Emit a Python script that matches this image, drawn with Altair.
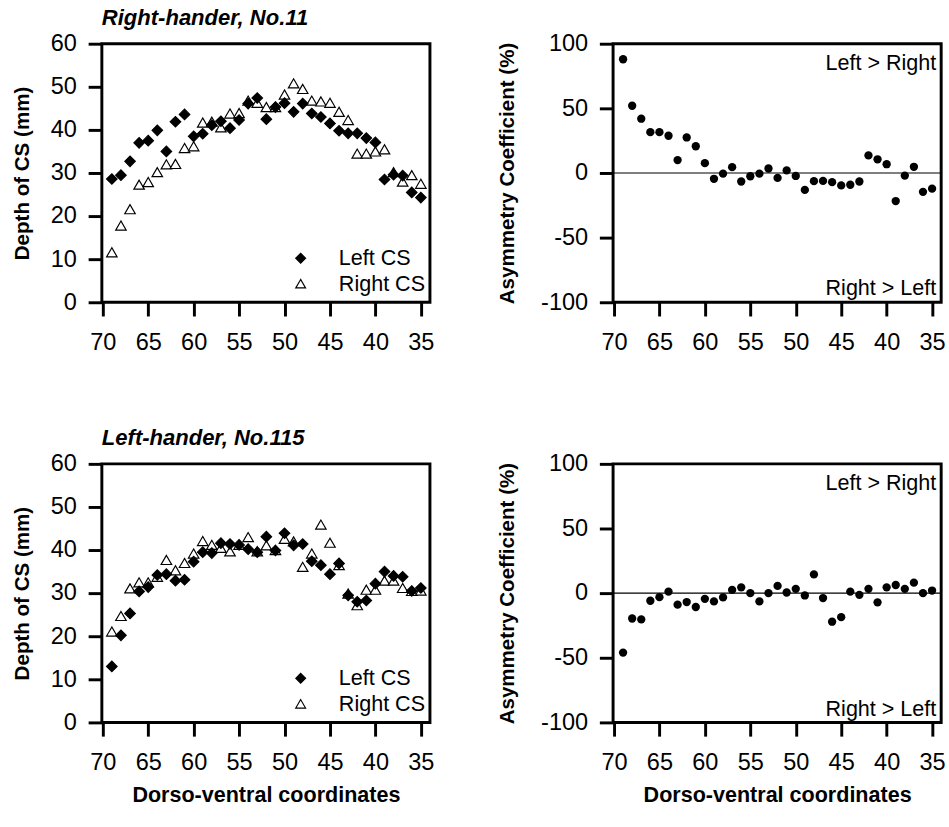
import altair as alt
import pandas as pd

FONT = "Liberation Sans"
W, H = 335, 264

# Dorso-ventral coordinates of the data points (69 down to 35)
coords = list(range(69, 34, -1))
x_ticks = [70, 65, 60, 55, 50, 45, 40, 35]
depth_ticks = [0, 10, 20, 30, 40, 50, 60]
asym_ticks = [-100, -50, 0, 50, 100]

panel_titles = ["Right-hander, No.11", "Left-hander, No.115"]
series_names = ["Left CS", "Right CS"]
annotations = ["Left > Right", "Right > Left"]

# Right-hander No.11
r11_left = [28.6, 29.5, 32.7, 37.0, 37.5, 39.9, 35.0, 41.9, 43.6, 38.5,
            39.1, 41.1, 42.0, 40.4, 42.3, 46.1, 47.4, 42.5, 45.3, 46.2,
            44.2, 46.1, 43.8, 43.0, 41.5, 39.8, 39.2, 39.2, 38.1, 37.1,
            28.5, 29.6, 29.4, 25.5, 24.3]
r11_right = [11.6, 17.8, 21.6, 27.3, 27.9, 30.2, 32.0, 32.1, 35.8, 36.2,
             41.7, 41.9, 40.6, 43.8, 43.9, 46.8, 46.3, 45.3, 45.3, 48.2,
             50.8, 49.5, 46.8, 46.6, 46.3, 44.2, 42.3, 34.5, 34.5, 35.0,
             35.5, 30.2, 28.0, 29.5, 27.5]
r11_asym = [88, 52, 42, 31.6, 31.6, 28.8, 10, 27.5, 20.7, 7.6,
            -4.5, -0.5, 4.5, -6.6, -2.5, -0.5, 3.5, -3.8, 2, -2.3,
            -13.1, -6.3, -6.1, -7.1, -9.6, -9.1, -6.6, 13.6, 10.6, 6.8,
            -21.7, -2, 4.8, -14.6, -12.1]

# Left-hander No.115
l115_left = [13.0, 20.2, 25.3, 30.4, 31.4, 34.2, 34.4, 32.9, 33.1, 37.3,
             39.5, 39.3, 41.6, 41.4, 41.2, 40.2, 39.5, 43.1, 39.9, 43.9,
             41.1, 41.4, 37.4, 36.5, 34.4, 36.9, 29.5, 28.0, 28.3, 32.2,
             35.0, 34.0, 33.8, 30.5, 31.2]
l115_right = [21.1, 24.7, 31.1, 32.5, 32.5, 33.8, 37.7, 35.3, 37.0, 39.2,
              42.1, 41.2, 40.5, 39.7, 41.2, 43.0, 39.7, 41.1, 40.0, 42.6,
              42.0, 36.1, 39.2, 45.9, 41.7, 36.5, 29.9, 27.2, 30.8, 30.8,
              32.9, 32.9, 31.2, 30.5, 30.6]
l115_asym = [-46, -19.6, -20.3, -5.9, -3.1, 1.2, -8.9, -6.9, -10.7, -4.4,
             -6.4, -3.3, 2.5, 4.5, 0, -6.4, 0, 5.6, 0.5, 3.3,
             -1.8, 14.5, -3.8, -22.1, -18.6, 1.2, -1.3, 3.3, -7.1, 4.5,
             6.3, 3.3, 8.1, 0, 2.0]


def x_enc(show_title):
    return alt.X(
        "coord:Q",
        scale=alt.Scale(domain=[70.1, 34.0], nice=False, zero=False),
        axis=alt.Axis(values=x_ticks, format="d",
                      title="Dorso-ventral coordinates" if show_title else None),
    )


def title_mark(text):
    return alt.Chart(pd.DataFrame({"t": [text]})).mark_text(
        align="left", baseline="alphabetic", fontSize=22.5, fontStyle="italic",
        fontWeight="bold", font=FONT, color="black"
    ).encode(x=alt.value(0), y=alt.value(-19), text="t:N")


def depth_panel(left, right, title, show_x_title):
    df = pd.DataFrame({
        "coord": coords + coords,
        "depth": right + left,
        "side": [series_names[1]] * len(coords) + [series_names[0]] * len(coords),
    })
    leg = alt.Legend(orient="none", legendX=192, legendY=208, title=None,
                     labelFontSize=22, labelFont=FONT, labelColor="black",
                     symbolSize=100, symbolStrokeWidth=1.2, labelOffset=28,
                     rowPadding=4, padding=0)
    pts = alt.Chart(df).mark_point(filled=True, size=115,
                                   strokeWidth=1.2, opacity=1).encode(
        x=x_enc(show_x_title),
        y=alt.Y("depth:Q", scale=alt.Scale(domain=[0, 60], nice=False),
                axis=alt.Axis(values=depth_ticks, title="Depth of CS (mm)",
                              titlePadding=18)),
        shape=alt.Shape("side:N", scale=alt.Scale(domain=series_names,
                                                  range=["diamond", "triangle-up"]),
                        legend=leg),
        fill=alt.Fill("side:N", scale=alt.Scale(domain=series_names,
                                                range=["black", "white"]),
                      legend=leg),
        stroke=alt.Stroke("side:N", scale=alt.Scale(domain=series_names,
                                                    range=["black", "black"]),
                          legend=leg),
    )
    return alt.layer(pts, title_mark(title)).properties(width=W, height=H)


def asym_panel(values, show_x_title):
    df = pd.DataFrame({"coord": coords, "asym": values})
    y = alt.Y("asym:Q", scale=alt.Scale(domain=[-100, 100], nice=False),
              axis=alt.Axis(values=asym_ticks, labelExpr="'' + datum.value",
                            title="Asymmetry Coefficient (%)", titlePadding=24))
    zero = alt.Chart(pd.DataFrame({"asym": [0]})).mark_rule(
        color="black", strokeWidth=1.2).encode(y=y)
    pts = alt.Chart(df).mark_circle(size=72, color="black", opacity=1).encode(
        x=x_enc(show_x_title), y=y)
    top = alt.Chart(pd.DataFrame({"t": [annotations[0]]})).mark_text(
        align="right", baseline="middle", fontSize=22, font=FONT, color="black"
    ).encode(x=alt.value(W - 5), y=alt.value(20), text="t:N")
    bot = alt.Chart(pd.DataFrame({"t": [annotations[1]]})).mark_text(
        align="right", baseline="middle", fontSize=22, font=FONT, color="black"
    ).encode(x=alt.value(W - 5), y=alt.value(H - 14), text="t:N")
    return alt.layer(zero, pts, top, bot).properties(width=W, height=H)


res = dict(shape="independent", fill="independent", stroke="independent")

row1 = alt.hconcat(
    depth_panel(r11_left, r11_right, panel_titles[0], False),
    asym_panel(r11_asym, False), spacing=60,
).resolve_scale(**res)
row2 = alt.hconcat(
    depth_panel(l115_left, l115_right, panel_titles[1], True),
    asym_panel(l115_asym, True), spacing=60,
).resolve_scale(**res)

chart = alt.vconcat(row1, row2, spacing=71).resolve_scale(**res).properties(
    padding={"left": 10, "top": -3, "right": 2, "bottom": 4},
    background="white",
).configure_view(
    stroke="black", strokeWidth=3
).configure_axis(
    domain=False, grid=False, ticks=True, tickColor="black", tickWidth=3,
    tickSize=14, labelFont=FONT, labelFontSize=24, labelColor="black",
    titleFont=FONT, titleFontSize=21, titleFontWeight="bold",
    titleColor="black",
).configure_axisX(
    labelPadding=15, labelFlush=False, titlePadding=11, titleFontSize=22,
).configure_axisY(
    labelPadding=12,
)

chart.save("out.html", embed_options={"renderer": "svg", "actions": False})
